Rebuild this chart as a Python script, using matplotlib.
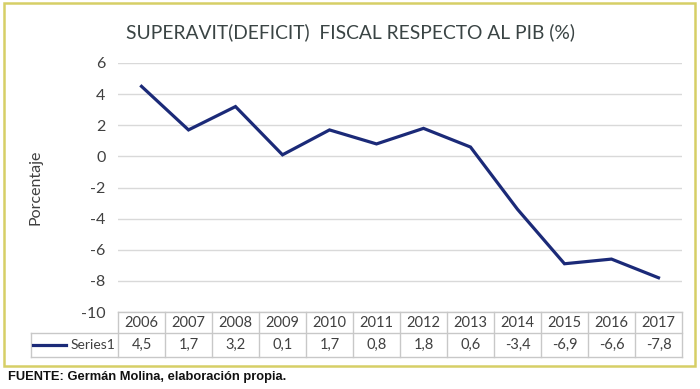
import matplotlib
matplotlib.use("Agg")
import matplotlib.pyplot as plt
from matplotlib.patches import Rectangle
from matplotlib.lines import Line2D

years = ["2006", "2007", "2008", "2009", "2010", "2011",
         "2012", "2013", "2014", "2015", "2016", "2017"]
values = [4.5, 1.7, 3.2, 0.1, 1.7, 0.8, 1.8, 0.6, -3.4, -6.9, -6.6, -7.8]
value_labels = ["4,5", "1,7", "3,2", "0,1", "1,7", "0,8",
                "1,8", "0,6", "-3,4", "-6,9", "-6,6", "-7,8"]
yticks = [6, 4, 2, 0, -2, -4, -6, -8, -10]
series_name = "Series1"

W, H = 700, 389
plt.rcParams['font.family'] = ['Lato', 'DejaVu Sans']

LINE = '#1b2a78'
TXT = '#404040'
GRID = '#d9d9d9'
TBL = '#c8c8c8'


def fx(px):
    return px / W


def fy(py):
    return 1 - py / H


fig = plt.figure(figsize=(W / 100, H / 100), dpi=100)
fig.patch.set_facecolor('white')

# outer frame
fig.patches.append(Rectangle((fx(4), fy(366)), fx(691), (366 - 3) / H,
                             transform=fig.transFigure, fill=False,
                             edgecolor='#d6cf66', linewidth=1.8))

x_left, x_right = 118, 682
y_top, y_bot = 63, 312

ax = fig.add_axes([fx(x_left), fy(y_bot), fx(x_right - x_left), (y_bot - y_top) / H])
idx = list(range(len(years)))
ax.plot(idx, values, color=LINE, linewidth=2.3, solid_joinstyle='miter', zorder=3)
ax.set_xlim(-0.5, len(years) - 0.5)
ax.set_ylim(-10, 6)
ax.set_yticks(yticks)
ax.set_yticklabels([str(t) for t in yticks], fontsize=11.5, color=TXT)
ax.tick_params(axis='y', length=0, pad=9)
ax.set_xticks([])
ax.grid(axis='y', color=GRID, linewidth=1)
for s in ax.spines.values():
    s.set_visible(False)
ax.set_axisbelow(True)

fig.text(fx(35), fy(187), "Porcentaje", rotation=90, ha='center', va='center',
         fontsize=11.5, color=TXT)
fig.text(fx(351), fy(32), "SUPERAVIT(DEFICIT)  FISCAL RESPECTO AL PIB (%)",
         ha='center', va='center', fontsize=13.9, color='#3a4444')

# data table
tb_top, tb_mid, tb_bot = 312, 333, 357
tax = fig.add_axes([fx(x_left), fy(tb_bot), fx(x_right - x_left), (tb_bot - tb_top) / H])
tax.set_xlim(-0.5, len(years) - 0.5)
tax.set_ylim(tb_bot, tb_top)
tax.axis('off')
for i in range(len(years) + 1):
    tax.plot([i - 0.5, i - 0.5], [tb_top, tb_bot], color=TBL, lw=1, clip_on=False)
tax.plot([-0.5, len(years) - 0.5], [tb_top, tb_top], color=TBL, lw=1, clip_on=False)
leg_left = -0.5 - (x_left - 31) / ((x_right - x_left) / len(years))
tax.plot([leg_left, len(years) - 0.5], [tb_mid, tb_mid], color=TBL, lw=1, clip_on=False)
tax.plot([leg_left, len(years) - 0.5], [tb_bot, tb_bot], color=TBL, lw=1, clip_on=False)
tax.plot([leg_left, leg_left], [tb_mid, tb_bot], color=TBL, lw=1, clip_on=False)
for i, (yr, lab) in enumerate(zip(years, value_labels)):
    tax.text(i, (tb_top + tb_mid) / 2 + 0.5, yr, ha='center', va='center',
             fontsize=10.5, color=TXT)
    tax.text(i, (tb_mid + tb_bot) / 2, lab, ha='center', va='center',
             fontsize=10.5, color=TXT)
fig.lines.append(Line2D([fx(33), fx(66)], [fy(345), fy(345)], color=LINE,
                        linewidth=2.3, transform=fig.transFigure))
fig.text(fx(115), fy(345), series_name, ha='right', va='center',
         fontsize=10, color=TXT)

fig.text(fx(8), fy(377), "FUENTE: Germán Molina, elaboración propia.",
         ha='left', va='center', fontsize=9.3, fontweight='bold',
         family=['Liberation Sans', 'DejaVu Sans'], color='#111111')

fig.savefig("out.png", dpi=100)
